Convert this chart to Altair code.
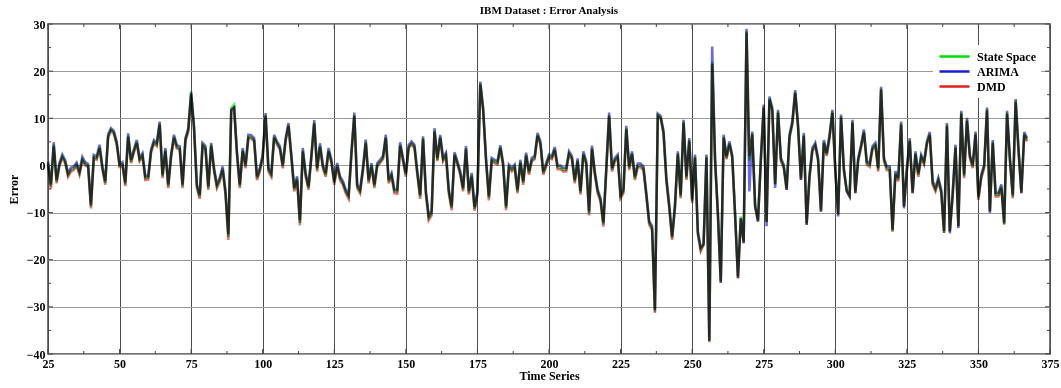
import altair as alt
import pandas as pd

# Forecast error of three models on the IBM series, one value per time step from t = 25
state_space = [
    0.5, -4.5, 4.4, -3.4, 0.2, 1.9, 0.8, -2.0, -0.9, -0.6,
    0.2, -1.6, 1.3, 0.3, 0.0, -8.7, 1.8, 1.5, 3.9, -0.5,
    -3.7, 6.2, 7.6, 7.0, 4.7, 0.0, 0.3, -4.0, 6.3, 0.8,
    3.0, 5.0, 1.2, 2.2, -2.7, -2.6, 3.0, 5.0, 4.4, 8.9,
    -2.3, 3.3, -4.4, 2.0, 6.1, 3.9, 3.7, -4.4, 5.4, 7.5,
    15.8, 8.0, -4.4, -6.6, 4.4, 3.7, -4.8, 4.4, -0.9, -4.4,
    -3.0, -0.6, -5.8, -15.2, 12.2, 12.9, 2.6, -4.4, 3.3, -0.2,
    6.1, 6.0, 5.4, -2.7, -0.9, 1.9, 10.7, -0.9, -2.0, 6.1,
    4.7, 3.7, -0.2, 5.4, 8.6, 1.9, -5.1, -2.7, -12.2, 3.2,
    -2.0, -4.8, 1.9, 9.1, -0.9, 4.2, -0.2, -2.0, 3.2, 0.8,
    -3.7, 0.1, -2.7, -3.7, -5.5, -6.6, 2.6, 10.7, -4.4, -5.5,
    -0.9, 5.0, -3.4, 0.1, -4.4, 0.1, 0.8, 1.6, 6.0, -3.4,
    -2.0, -5.5, -5.5, 4.4, 1.2, -2.0, 4.0, 4.7, 4.0, -1.6,
    -6.6, 5.8, -5.8, -11.1, -10.1, 7.4, 1.2, 6.1, 1.2, 2.3,
    -5.5, -9.0, 2.4, 0.5, -1.6, -5.1, 3.7, -5.8, -2.0, -9.2,
    -5.8, 17.4, 11.8, 1.2, -6.9, 1.2, 0.8, 0.5, 3.9, 0.1,
    -9.0, -0.2, -0.9, -0.2, -5.5, 0.8, -3.7, 2.3, -1.6, 1.2,
    1.6, 6.5, 4.7, -1.6, 0.1, 1.9, 1.6, 3.5, -0.4, -0.4,
    -0.9, -0.9, 2.6, 1.6, -3.4, 1.1, -5.8, 2.5, 0.5, -10.1,
    3.7, -1.6, -5.5, -7.3, -12.5, -1.0, 10.7, -0.9, 1.2, 1.9,
    -6.6, -5.5, 7.9, -0.6, 2.6, -2.7, 0.0, 0.0, -0.6, -6.2,
    -12.2, -13.2, -31.0, 10.7, 10.2, 7.0, -3.0, -8.7, -15.4, -8.7,
    2.6, -6.6, 9.3, -2.7, 5.4, -7.6, 1.9, -14.3, -17.8, -16.4,
    1.9, -37.2, 22.0, 1.2, -10.1, -24.5, 6.1, 1.6, 4.7, 1.9,
    -10.1, -23.5, -10.8, -16.1, 28.5, 1.0, 6.8, -8.3, -11.5, 1.2,
    12.5, -12.0, 14.2, 11.8, -4.0, 11.4, 1.2, -0.2, -4.8, 6.1,
    9.0, 15.6, 8.2, -2.7, 6.5, -12.2, -2.3, 3.3, 4.4, 1.2,
    -9.4, 5.0, 2.3, 6.1, 11.4, -0.9, -10.4, 10.4, -0.9, -5.1,
    -6.2, 9.3, -5.5, 1.2, 4.0, 7.2, 0.5, 0.1, 3.7, 4.4,
    -0.9, 16.3, 1.2, -0.6, -0.6, -14.0, -1.6, -3.0, 8.9, -8.7,
    -0.9, 5.4, -5.5, 2.6, -2.0, 1.9, 0.5, 4.7, 6.7, -3.7,
    -5.1, -3.0, -5.5, -14.3, 8.6, -14.0, -6.2, 4.0, -12.9, 11.2,
    -2.3, 9.7, 1.9, -0.2, 6.8, -6.9, -2.3, -0.2, 11.9, -9.7,
    5.0, -6.2, -6.2, -4.4, -12.5, 11.2, 1.2, -6.6, 13.7, 3.3,
    -5.5, 6.7, 5.4,
]

arima = [
    0.8, -4.0, 4.9, -3.0, 0.5, 2.3, 1.1, -1.6, -0.5, -0.2,
    0.6, -1.2, 1.8, 0.7, 0.3, -8.3, 2.2, 1.9, 4.4, -0.1,
    -3.3, 6.6, 7.9, 7.3, 5.1, 0.3, 0.7, -3.6, 6.8, 1.2,
    3.4, 5.4, 1.6, 2.6, -2.3, -2.2, 3.4, 5.4, 4.8, 9.3,
    -1.9, 3.7, -4.0, 2.4, 6.5, 4.3, 4.1, -4.0, 5.8, 7.9,
    15.4, 8.4, -4.0, -6.2, 4.8, 4.1, -4.4, 4.8, -0.5, -4.0,
    -2.6, -0.2, -5.4, -14.6, 11.8, 12.3, 3.0, -4.0, 3.7, 0.2,
    6.5, 6.4, 5.8, -2.3, -0.5, 2.3, 11.1, -0.5, -1.6, 6.5,
    5.1, 4.1, 0.2, 5.8, 9.0, 2.3, -4.7, -2.3, -11.6, 3.7,
    -1.6, -4.4, 2.3, 9.6, -0.5, 4.7, 0.2, -1.6, 3.7, 1.2,
    -3.3, 0.5, -2.3, -3.3, -5.1, -6.2, 3.0, 11.2, -4.0, -5.1,
    -0.5, 5.5, -3.0, 0.5, -4.0, 0.5, 1.2, 2.0, 6.5, -3.0,
    -1.6, -5.1, -5.1, 4.9, 1.6, -1.6, 4.4, 5.1, 4.4, -1.2,
    -6.2, 6.2, -5.4, -10.6, -9.6, 7.9, 1.6, 6.5, 1.6, 2.7,
    -5.1, -8.6, 2.8, 0.9, -1.2, -4.7, 4.1, -5.4, -1.6, -8.8,
    -5.4, 17.8, 12.2, 1.6, -6.5, 1.6, 1.2, 0.9, 4.3, 0.5,
    -8.6, 0.2, -0.5, 0.2, -5.1, 1.2, -3.3, 2.7, -1.2, 1.6,
    2.0, 6.9, 5.1, -1.2, 0.5, 2.3, 2.0, 3.9, 0.0, 0.0,
    -0.5, -0.5, 3.0, 2.0, -3.0, 1.5, -5.4, 3.0, 0.9, -9.7,
    4.2, -1.2, -5.1, -6.9, -12.1, -0.6, 11.2, -0.5, 1.6, 2.3,
    -6.2, -5.1, 8.4, -0.2, 3.0, -2.3, 0.4, 0.4, -0.2, -5.8,
    -11.8, -12.8, -30.6, 11.0, 10.5, 7.4, -2.6, -8.3, -15.0, -8.3,
    3.0, -6.2, 9.7, -2.3, 5.8, -7.2, 2.3, -14.0, -17.4, -16.8,
    2.3, -37.2, 25.2, 1.6, -10.5, -24.9, 6.5, 2.0, 5.1, 2.3,
    -10.5, -23.9, -11.2, -16.5, 29.0, -5.5, 7.2, -8.7, -11.9, 1.6,
    12.9, -12.9, 14.6, 12.2, -4.8, 11.8, 1.6, 0.2, -5.2, 6.5,
    9.4, 16.0, 8.6, -3.1, 6.9, -12.6, -1.9, 3.7, 4.8, 1.6,
    -9.8, 5.4, 2.7, 6.5, 11.8, -0.5, -10.8, 10.8, -0.5, -5.5,
    -6.6, 9.7, -5.9, 1.6, 4.4, 7.6, 0.9, 0.5, 4.1, 4.8,
    -0.5, 16.7, 1.6, -0.2, -0.2, -13.6, -1.2, -2.6, 9.3, -9.1,
    -0.5, 5.8, -5.9, 3.0, -1.6, 2.3, 0.9, 5.1, 7.1, -3.3,
    -4.7, -2.6, -5.1, -13.9, 9.0, -14.4, -5.8, 4.4, -13.3, 11.6,
    -1.9, 10.1, 2.3, 0.2, 7.2, -6.5, -1.9, 0.2, 12.3, -10.1,
    5.4, -5.8, -5.8, -4.0, -12.1, 11.6, 1.6, -6.2, 14.1, 3.7,
    -5.9, 7.1, 5.8,
]

dmd = [
    0.2, -5.0, 4.0, -3.8, -0.1, 1.6, 0.5, -2.4, -1.3, -1.0,
    -0.1, -2.0, 1.0, 0.0, -0.3, -9.1, 1.5, 1.2, 3.6, -0.9,
    -4.1, 5.9, 7.3, 6.7, 4.4, -0.3, 0.0, -4.4, 6.0, 0.5,
    2.7, 4.7, 0.9, 1.9, -3.1, -3.0, 2.7, 4.7, 4.1, 8.6,
    -2.7, 3.0, -4.8, 1.7, 5.8, 3.6, 3.4, -4.8, 5.1, 7.2,
    15.0, 7.7, -4.8, -7.1, 4.1, 3.4, -5.2, 4.1, -1.3, -4.8,
    -3.4, -1.0, -6.2, -15.8, 11.5, 12.2, 2.3, -4.8, 3.0, -0.6,
    5.8, 5.7, 5.1, -3.1, -1.3, 1.6, 10.4, -1.3, -2.4, 5.8,
    4.4, 3.4, -0.6, 5.1, 8.3, 1.6, -5.5, -3.1, -12.7, 2.9,
    -2.4, -5.2, 1.6, 8.8, -1.3, 3.9, -0.6, -2.4, 2.9, 0.5,
    -4.1, -0.3, -3.1, -4.1, -5.9, -7.1, 2.3, 10.4, -4.8, -5.9,
    -1.3, 4.7, -3.8, -0.3, -4.8, -0.3, 0.5, 1.3, 5.7, -3.8,
    -2.4, -5.9, -6.0, 4.1, 0.9, -2.4, 3.7, 4.4, 3.7, -2.0,
    -7.1, 5.5, -6.2, -11.6, -10.6, 7.1, 0.9, 5.8, 0.9, 2.0,
    -5.9, -9.5, 2.1, 0.2, -2.0, -5.5, 3.4, -6.2, -2.4, -9.6,
    -6.2, 17.1, 11.5, 0.9, -7.4, 0.9, 0.5, 0.2, 3.6, -0.3,
    -9.5, -0.6, -1.3, -0.6, -5.9, 0.5, -4.1, 2.0, -2.0, 0.9,
    1.3, 6.2, 4.4, -2.0, -0.3, 1.6, 1.3, 3.2, -0.8, -0.8,
    -1.3, -1.3, 2.3, 1.3, -3.8, 0.8, -6.2, 2.2, 0.2, -10.6,
    3.4, -2.0, -5.9, -7.7, -13.0, -1.4, 10.4, -1.3, 0.9, 1.6,
    -7.0, -5.9, 7.6, -1.0, 2.3, -3.1, -0.4, -0.4, -1.0, -6.6,
    -12.6, -13.6, -31.3, 10.4, 9.9, 6.7, -3.4, -9.1, -15.8, -9.1,
    2.3, -7.0, 9.0, -3.1, 5.1, -8.0, 1.6, -14.7, -18.2, -16.8,
    1.6, -37.5, 21.5, 0.9, -10.5, -24.9, 5.8, 1.3, 4.4, 1.6,
    -10.5, -23.9, -11.2, -16.5, 28.2, 2.0, 6.5, -8.7, -11.9, 0.9,
    12.2, -12.0, 13.9, 11.5, -4.0, 11.1, 0.9, -0.6, -5.2, 5.8,
    8.7, 15.3, 7.9, -3.1, 6.2, -12.6, -2.7, 3.0, 4.1, 0.9,
    -9.8, 4.7, 2.0, 5.8, 11.1, -1.3, -10.4, 10.1, -1.3, -5.5,
    -6.6, 9.0, -5.9, 0.9, 3.7, 6.9, 0.2, -0.3, 3.4, 4.1,
    -1.3, 16.0, 0.9, -1.0, -1.0, -14.0, -2.0, -3.4, 8.6, -8.7,
    -1.3, 5.1, -5.9, 2.3, -2.4, 1.6, 0.2, 4.4, 6.4, -4.1,
    -5.5, -3.4, -5.9, -14.3, 8.3, -14.0, -6.6, 3.7, -12.9, 10.9,
    -2.7, 9.4, 1.6, -0.6, 6.5, -7.3, -2.7, -0.6, 11.6, -9.7,
    4.7, -6.6, -6.6, -4.8, -12.5, 10.9, 0.9, -7.0, 13.4, 3.0,
    -5.9, 6.4, 5.1,
]

first_step = 25
series_names = ["State Space", "ARIMA", "DMD"]
series_colors = ["#00e000", "#1a1ad8", "#e01f1f"]

# axis tick positions (major ones are labelled, minor ones are short marks only)
x_major = [25, 50, 75, 100, 125, 150, 175, 200, 225, 250, 275, 300, 325, 350, 375]
x_minor = [37.5, 62.5, 87.5, 112.5, 137.5, 162.5, 187.5, 212.5, 237.5, 262.5,
           287.5, 312.5, 337.5, 362.5]
y_major = [-40, -30, -20, -10, 0, 10, 20, 30]
y_minor = [-35, -25, -15, -5, 5, 15, 25]

W, H = 1002, 330
FONT = "Liberation Serif"

rows = []
for name, values in zip(series_names, [state_space, arima, dmd]):
    for i, v in enumerate(values):
        rows.append({"t": first_step + i, "error": v, "model": name})
df = pd.DataFrame(rows)

x_scale = alt.Scale(domain=[25, 375], nice=False, zero=False)
y_scale = alt.Scale(domain=[-40, 30], nice=False, zero=False)

x_axis = alt.Axis(
    values=x_major, grid=True, gridColor="#505050", gridWidth=1, gridOpacity=1,
    ticks=False, domain=False, labelFont=FONT, labelFontWeight="bold",
    labelFontSize=12, labelColor="black", labelPadding=4, labelFlush=False,
    title="Time Series", titleFont=FONT, titleFontWeight="bold", titleFontSize=12,
    titleColor="black", titlePadding=1,
)
y_axis = alt.Axis(
    values=y_major, grid=True, gridColor="#9a9a9a", gridWidth=1, gridOpacity=1,
    ticks=False, domain=False, labelFont=FONT, labelFontWeight="bold",
    labelFontSize=12, labelColor="black", labelPadding=3, labelFlush=False,
    title="Error", titleFont=FONT, titleFontWeight="bold", titleFontSize=12,
    titleColor="black", titlePadding=6,
)

color = alt.Color(
    "model:N",
    scale=alt.Scale(domain=series_names, range=series_colors),
    legend=alt.Legend(
        title=None, orient="none", legendX=885, legendY=21,
        symbolType="stroke", symbolSize=900, symbolStrokeWidth=2.5,
        labelFont=FONT, labelFontWeight="bold", labelFontSize=12,
        labelColor="black", labelOffset=6, fillColor="white", padding=5,
        clipHeight=13, rowPadding=2,
    ),
)


def series_line(name):
    # the three error curves nearly coincide; multiplying them keeps every colour visible
    return (
        alt.Chart(df)
        .transform_filter(alt.datum.model == name)
        .mark_line(strokeWidth=2.5, interpolate="linear", blend="multiply",
                   strokeOpacity=0.65)
        .encode(
            x=alt.X("t:Q", scale=x_scale, axis=x_axis),
            y=alt.Y("error:Q", scale=y_scale, axis=y_axis),
            color=color,
        )
    )


def x_ticks(values, length, top):
    data = pd.DataFrame({"t": values})
    y0, y1 = (0, length) if top else (H, H - length)
    return alt.Chart(data).mark_rule(color="#444444", strokeWidth=1).encode(
        x=alt.X("t:Q", scale=x_scale, axis=x_axis),
        y=alt.value(y0), y2=alt.value(y1),
    )


def y_ticks(values, length, right):
    data = pd.DataFrame({"error": values})
    x0, x1 = (W, W - length) if right else (0, length)
    return alt.Chart(data).mark_rule(color="#444444", strokeWidth=1).encode(
        y=alt.Y("error:Q", scale=y_scale, axis=y_axis),
        x=alt.value(x0), x2=alt.value(x1),
    )


tick_layers = [
    x_ticks(x_major, 5, False), x_ticks(x_major, 5, True),
    x_ticks(x_minor, 3, False), x_ticks(x_minor, 3, True),
    y_ticks(y_major, 5, False), y_ticks(y_major, 5, True),
    y_ticks(y_minor, 3, False), y_ticks(y_minor, 3, True),
]

chart = (
    alt.layer(*[series_line(n) for n in series_names], *tick_layers)
    .properties(
        width=W, height=H,
        title=alt.TitleParams(
            "IBM Dataset : Error Analysis", font=FONT, fontWeight="bold",
            fontSize=11, color="black", anchor="middle", offset=2,
        ),
        autosize=alt.AutoSizeParams(type="none"),
        padding={"left": 48, "top": 24, "right": 11, "bottom": 34},
        background="white",
    )
    .configure_view(stroke="#4a4a4a", strokeWidth=1.5)
)

chart.save("out.html", embed_options={"renderer": "svg", "actions": False})
